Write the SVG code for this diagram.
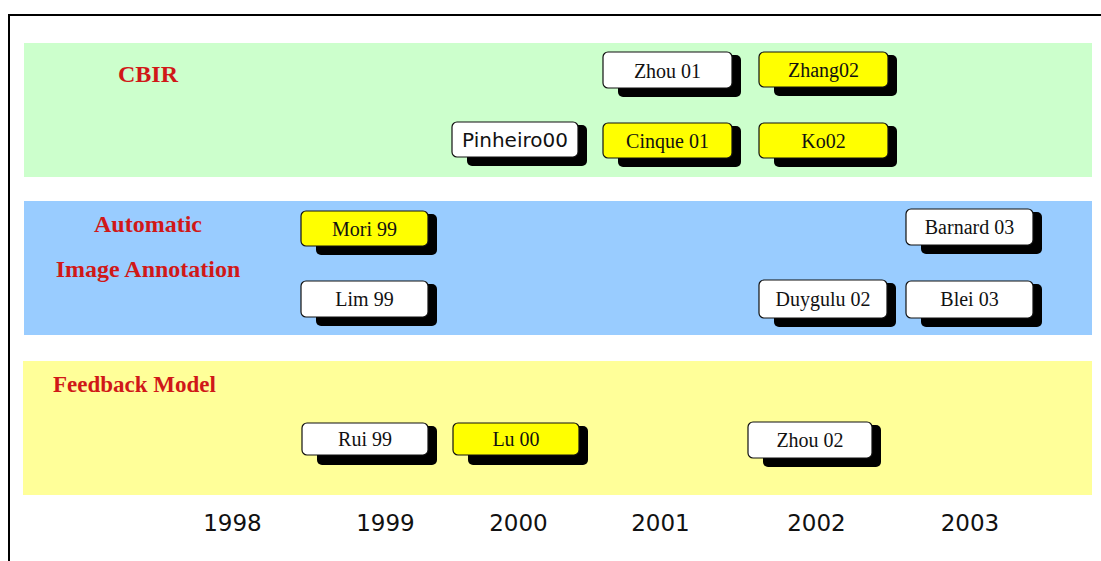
<svg xmlns="http://www.w3.org/2000/svg" width="1101" height="561" viewBox="0 0 1101 561">
  <style>
    .band-cbir { fill: #ccffcc; }
    .band-aia { fill: #99ccff; }
    .band-fb { fill: #ffff99; }
    .cat { font-family: "Liberation Serif", "Times New Roman", serif; font-weight: bold; fill: #d01818; font-size: 24px; }
    .shadow { fill: #000; }
    .box { stroke: #111; stroke-width: 1.2; }
    .white { fill: #ffffff; }
    .yellow { fill: #ffff00; }
    .lbl { font-family: "Liberation Serif", "Times New Roman", serif; font-size: 20px; fill: #111; text-anchor: middle; }
    .lbl-sans { font-family: "DejaVu Sans", Verdana, sans-serif; font-size: 20px; fill: #111; text-anchor: middle; }
    .year { font-family: "DejaVu Sans", Verdana, sans-serif; font-size: 23px; fill: #111; text-anchor: middle; }
  </style>

  <rect x="0" y="0" width="1101" height="561" fill="#ffffff"/>

  <!-- outer frame (top and left edges) -->
  <path d="M9 561 V15 H1101" fill="none" stroke="#000" stroke-width="2"/>

  <!-- category bands -->
  <g id="bands">
    <rect class="band-cbir" x="24" y="43" width="1068" height="134"/>
    <rect class="band-aia" x="24" y="201" width="1068" height="134"/>
    <rect class="band-fb" x="23" y="361" width="1069" height="134"/>
  </g>

  <!-- category titles -->
  <g id="titles">
    <text class="cat" x="148" y="82" text-anchor="middle">CBIR</text>
    <text class="cat" x="148" y="232" text-anchor="middle">Automatic</text>
    <text class="cat" x="148" y="277" text-anchor="middle">Image Annotation</text>
    <text class="cat" x="53" y="392" style="font-size:23px">Feedback Model</text>
  </g>

  <g id="connectors"/>

  <!-- CBIR -->
  <g id="zhou01">
    <rect class="shadow" x="618" y="55" width="123" height="42" rx="5"/>
    <rect class="box white" x="603" y="52" width="129" height="36" rx="5"/>
    <text class="lbl" x="667.5" y="78">Zhou 01</text>
  </g>
  <g id="zhang02">
    <rect class="shadow" x="774" y="55" width="123" height="41" rx="5"/>
    <rect class="box yellow" x="759" y="52" width="129" height="35" rx="5"/>
    <text class="lbl" x="823.5" y="77">Zhang02</text>
  </g>
  <g id="pinheiro00">
    <rect class="shadow" x="467" y="125" width="120" height="41" rx="5"/>
    <rect class="box white" x="452" y="122" width="126" height="35" rx="5"/>
    <text class="lbl-sans" x="515" y="147">Pinheiro00</text>
  </g>
  <g id="cinque01">
    <rect class="shadow" x="618" y="126" width="123" height="41" rx="5"/>
    <rect class="box yellow" x="603" y="123" width="129" height="35" rx="5"/>
    <text class="lbl" x="667.5" y="148">Cinque 01</text>
  </g>
  <g id="ko02">
    <rect class="shadow" x="774" y="126" width="123" height="41" rx="5"/>
    <rect class="box yellow" x="759" y="123" width="129" height="35" rx="5"/>
    <text class="lbl" x="823.5" y="148">Ko02</text>
  </g>

  <!-- Automatic Image Annotation -->
  <g id="mori99">
    <rect class="shadow" x="316" y="214" width="121" height="41" rx="5"/>
    <rect class="box yellow" x="301" y="211" width="127" height="35" rx="5"/>
    <text class="lbl" x="364.5" y="236">Mori 99</text>
  </g>
  <g id="lim99">
    <rect class="shadow" x="316" y="284" width="121" height="42" rx="5"/>
    <rect class="box white" x="301" y="281" width="127" height="36" rx="5"/>
    <text class="lbl" x="364.5" y="306">Lim 99</text>
  </g>
  <g id="barnard03">
    <rect class="shadow" x="921" y="212" width="121" height="42" rx="5"/>
    <rect class="box white" x="906" y="209" width="127" height="36" rx="5"/>
    <text class="lbl" x="969.5" y="234">Barnard 03</text>
  </g>
  <g id="duygulu02">
    <rect class="shadow" x="774" y="283" width="122" height="44" rx="5"/>
    <rect class="box white" x="759" y="280" width="128" height="38" rx="5"/>
    <text class="lbl" x="823" y="306">Duygulu 02</text>
  </g>
  <g id="blei03">
    <rect class="shadow" x="921" y="284" width="121" height="43" rx="5"/>
    <rect class="box white" x="906" y="281" width="127" height="37" rx="5"/>
    <text class="lbl" x="969.5" y="306">Blei 03</text>
  </g>

  <!-- Feedback Model -->
  <g id="rui99">
    <rect class="shadow" x="317" y="426" width="120" height="39" rx="5"/>
    <rect class="box white" x="302" y="423" width="126" height="32" rx="5"/>
    <text class="lbl" x="365" y="446">Rui 99</text>
  </g>
  <g id="lu00">
    <rect class="shadow" x="468" y="426" width="120" height="39" rx="5"/>
    <rect class="box yellow" x="453" y="423" width="126" height="32" rx="5"/>
    <text class="lbl" x="516" y="446">Lu 00</text>
  </g>
  <g id="zhou02">
    <rect class="shadow" x="763" y="425" width="118" height="42" rx="5"/>
    <rect class="box white" x="748" y="422" width="124" height="36" rx="5"/>
    <text class="lbl" x="810" y="447">Zhou 02</text>
  </g>

  <!-- year axis -->
  <g id="years">
    <text class="year" x="232.5" y="531">1998</text>
    <text class="year" x="385.5" y="531">1999</text>
    <text class="year" x="518.5" y="531">2000</text>
    <text class="year" x="660.5" y="531">2001</text>
    <text class="year" x="816.5" y="531">2002</text>
    <text class="year" x="970" y="531">2003</text>
  </g>
</svg>
